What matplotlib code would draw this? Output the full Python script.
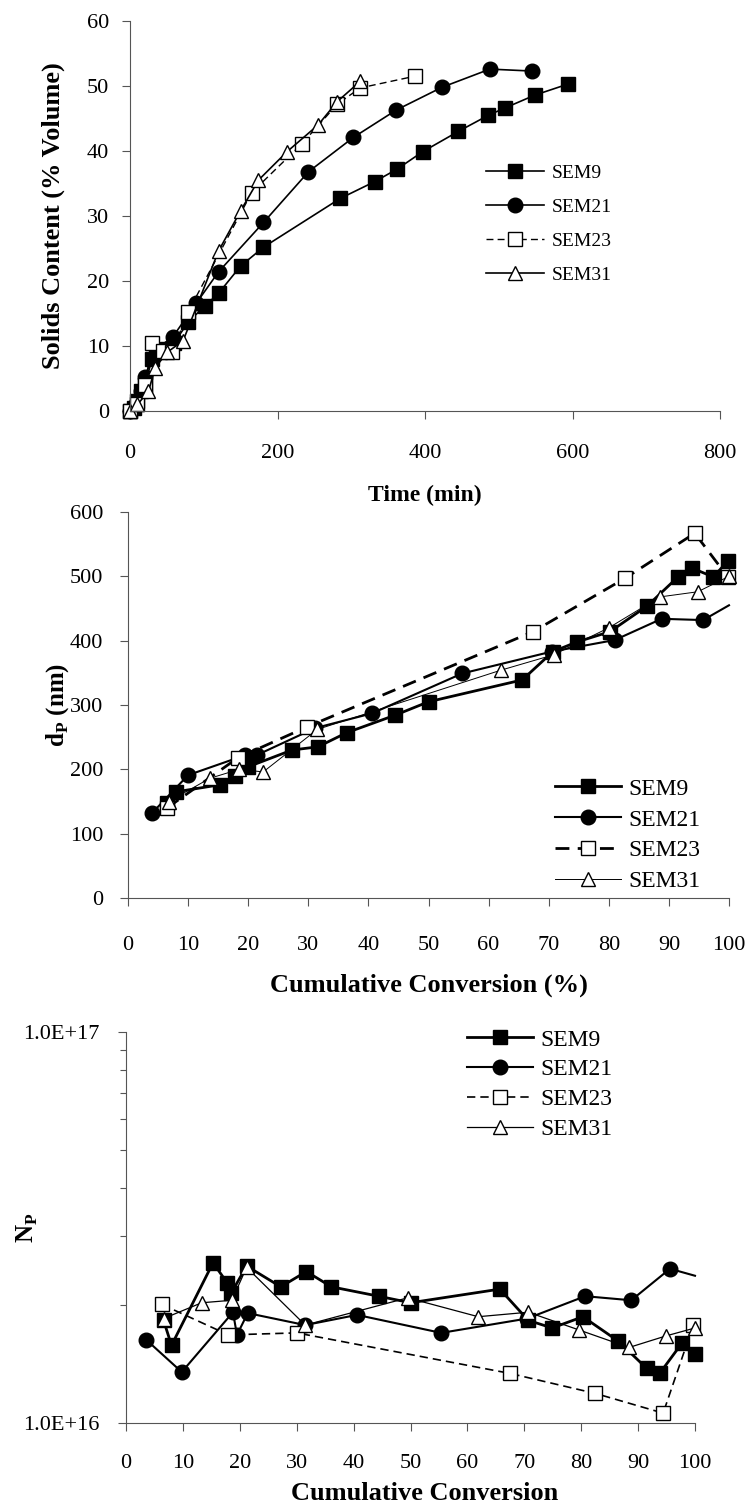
import matplotlib
matplotlib.use("Agg")
import matplotlib.pyplot as plt
from matplotlib.ticker import FixedLocator, LogLocator, NullFormatter, FixedFormatter

plt.rcParams['font.family'] = ['Liberation Serif', 'DejaVu Serif']
plt.rcParams['mathtext.fontset'] = 'custom'
plt.rcParams['mathtext.rm'] = 'Liberation Serif'
plt.rcParams['mathtext.bf'] = 'Liberation Serif:bold'

# ================= 資料 : Solids content vs time =================
sc_sem9_t = [0, 5, 10, 15, 20, 30, 40, 50, 60, 79, 102, 120, 150, 181, 285, 332, 362, 397, 445, 486, 508, 549, 594]
sc_sem9_v = [0, 0.5, 1.5, 3, 4, 8, 9, 9.5, 10.5, 13.7, 16.2, 18.1, 22.3, 25.2, 32.7, 35.3, 37.2, 39.9, 43, 45.5, 46.6, 48.6, 50.3]
sc_sem21_t = [0, 8, 15, 20, 35, 58, 90, 120, 181, 242, 303, 361, 423, 488, 545]
sc_sem21_v = [0, 1, 3, 5.2, 9.5, 11.4, 16.6, 21.4, 29, 36.8, 42.1, 46.3, 49.8, 52.6, 52.3]
sc_sem23_t = [0, 10, 20, 30, 45, 57, 79, 165, 233, 281, 312, 386]
sc_sem23_v = [0, 1, 4, 10.4, 9.3, 9.1, 15.3, 33.6, 41.1, 47.2, 49.7, 51.5]
sc_sem31_t = [0, 10, 25, 34, 50, 72, 120, 150, 174, 213, 255, 281, 312]
sc_sem31_v = [0, 1, 3, 6.6, 9, 10.8, 24.6, 30.8, 35.5, 39.9, 44, 47.6, 50.7]

# ================= 資料 : particle diameter vs conversion =================
dp_sem9_c = [6.5, 8, 15.3, 17.8, 20, 27.3, 31.6, 36.4, 44.4, 50, 65.6, 70.7, 74.7, 80.2, 86.4, 91.5, 93.8, 97.4, 99.8]
dp_sem9_d = [148, 165, 176, 190, 204, 230, 235, 257, 284, 305, 339, 383, 398, 414, 454, 499, 513, 499, 524]
dp_sem21_c = [4, 10, 19.5, 21.4, 31.1, 40.6, 55.6, 70.5, 81, 88.8, 95.7, 100]
dp_sem21_d = [132, 191, 222, 222, 264, 287, 349, 383, 401, 434, 432, 455]
dp_sem23_c = [6.5, 18.3, 29.8, 67.4, 82.7, 94.3, 99.8]
dp_sem23_d = [140, 218, 266, 414, 497, 567, 499]
dp_sem31_c = [6.8, 13.6, 18.5, 22.5, 31.5, 62, 70.8, 80, 88.5, 94.8, 100]
dp_sem31_d = [150, 186, 200, 196, 262, 354, 378, 420, 468, 476, 500]

# ================= 資料 : particle number vs conversion =================
np_sem9_c = [6.6, 8.0, 15.3, 17.8, 18.5, 21.2, 27.2, 31.7, 36.1, 44.4, 50, 65.7, 70.7, 74.9, 80.3, 86.5, 91.5, 93.8, 97.7, 100]
np_sem9_n = [1.83e16, 1.58e16, 2.57e16, 2.28e16, 2.15e16, 2.52e16, 2.23e16, 2.44e16, 2.23e16, 2.11e16, 2.03e16,
             2.2e16, 1.83e16, 1.75e16, 1.87e16, 1.62e16, 1.38e16, 1.34e16, 1.6e16, 1.5e16]
np_sem21_c = [3.6, 9.8, 18.8, 19.5, 21.4, 31.5, 40.6, 55.4, 70.5, 80.7, 88.8, 95.6, 100]
np_sem21_n = [1.63e16, 1.35e16, 1.92e16, 1.68e16, 1.91e16, 1.78e16, 1.89e16, 1.7e16, 1.85e16, 2.11e16, 2.06e16,
              2.48e16, 2.38e16]
np_sem23_c = [6.3, 18.0, 30, 67.4, 82.5, 94.4, 99.7]
np_sem23_n = [2.01e16, 1.68e16, 1.7e16, 1.34e16, 1.19e16, 1.06e16, 1.78e16]
np_sem31_c = [6.6, 13.3, 18.6, 21.2, 31.5, 49.5, 61.9, 70.7, 79.6, 88.4, 94.9, 100]
np_sem31_n = [1.85e16, 2.03e16, 2.06e16, 2.5e16, 1.78e16, 2.09e16, 1.87e16, 1.92e16, 1.73e16, 1.56e16, 1.67e16, 1.75e16]

labels = ['SEM9', 'SEM21', 'SEM23', 'SEM31']

W, H = 752, 1512
fig = plt.figure(figsize=(W / 100, H / 100), dpi=100)


def box(l, r, t, b):
    return [l / W, 1 - b / H, (r - l) / W, (b - t) / H]


def style_axes(ax, fs, xpad, ypad):
    for s in ['top', 'right']:
        ax.spines[s].set_visible(False)
    for s in ['left', 'bottom']:
        ax.spines[s].set_color('#555555')
        ax.spines[s].set_linewidth(0.8)
    ax.tick_params(axis='both', which='major', direction='out', length=6, width=0.8,
                   color='#555555', labelsize=fs)
    ax.tick_params(axis='x', pad=xpad)
    ax.tick_params(axis='y', pad=ypad)
    ax.tick_params(axis='y', which='minor', direction='out', length=4, width=0.8, color='#555555')


def draw(ax, data, widths, ms):
    styles = [
        dict(marker='s', mfc='black', mec='black', ls='-', color='black'),
        dict(marker='o', mfc='black', mec='black', ls='-', color='black'),
        dict(marker='s', mfc='white', mec='black', ls=(0, (5, 3)), color='black'),
        dict(marker='^', mfc='white', mec='black', ls='-', color='black'),
    ]
    for (x, y, mk), st, lw, lab in zip(data, styles, widths, labels):
        ax.plot(x, y, label=lab, lw=lw, ms=ms, mew=1.0, clip_on=False, markevery=mk, **st)


# ---------- 上圖 ----------
ax1 = fig.add_axes(box(130, 720, 21, 411))
draw(ax1, [(sc_sem9_t, sc_sem9_v, None), (sc_sem21_t, sc_sem21_v, None),
           (sc_sem23_t, sc_sem23_v, None), (sc_sem31_t, sc_sem31_v, None)],
     [1.2, 1.2, 1.0, 1.2], 10.5)
ax1.set_xlim(0, 800)
ax1.set_ylim(0, 60)
ax1.set_xticks([0, 200, 400, 600, 800])
ax1.set_yticks(range(0, 61, 10))
style_axes(ax1, 16, 18, 9)
ax1.set_xlabel('Time (min)', fontsize=17, fontweight='bold')
ax1.set_ylabel('Solids Content (% Volume)', fontsize=19, fontweight='bold')
ax1.xaxis.set_label_coords(0.5, -0.19)
ax1.yaxis.set_label_coords(-0.11, 0.5)
ax1.legend(loc='upper left', bbox_to_anchor=((486 - 130) / 590, (411 - 164) / 390), frameon=False,
           borderaxespad=0, borderpad=0, fontsize=14, handlelength=3.0, handletextpad=0.4,
           labelspacing=0.85)

# ---------- 中圖 ----------
ax2 = fig.add_axes(box(128, 729, 512, 898))
mk_last = list(range(len(dp_sem21_c) - 1))
draw(ax2, [(dp_sem9_c, dp_sem9_d, None), (dp_sem21_c, dp_sem21_d, mk_last),
           (dp_sem23_c, dp_sem23_d, None), (dp_sem31_c, dp_sem31_d, None)],
     [2.0, 1.5, 2.0, 0.7], 10.5)
ax2.set_xlim(0, 100)
ax2.set_ylim(0, 600)
ax2.set_xticks(range(0, 101, 10))
ax2.set_yticks(range(0, 601, 100))
style_axes(ax2, 16, 21, 12)
ax2.set_xlabel('Cumulative Conversion (%)', fontsize=19, fontweight='bold')
ax2.set_ylabel(r'd$_\mathregular{P}$ (nm)', fontsize=18, fontweight='bold')
ax2.xaxis.set_label_coords(0.5, -0.195)
ax2.yaxis.set_label_coords(-0.095, 0.5)
ax2.legend(loc='upper left', bbox_to_anchor=((555 - 128) / 601, (898 - 778) / 386), frameon=False,
           borderaxespad=0, borderpad=0, fontsize=17, handlelength=2.8, handletextpad=0.3,
           labelspacing=0.4)

# ---------- 下圖 ----------
ax3 = fig.add_axes(box(126, 695, 1032, 1423))
mk_last3 = list(range(len(np_sem21_c) - 1))
draw(ax3, [(np_sem9_c, np_sem9_n, None), (np_sem21_c, np_sem21_n, mk_last3),
           (np_sem23_c, np_sem23_n, None), (np_sem31_c, np_sem31_n, None)],
     [2.0, 1.5, 1.2, 0.9], 10.5)
ax3.set_yscale('log')
ax3.set_xlim(0, 100)
ax3.set_ylim(1e16, 1e17)
ax3.set_xticks(range(0, 101, 10))
ax3.yaxis.set_major_locator(FixedLocator([1e16, 1e17]))
ax3.yaxis.set_major_formatter(FixedFormatter(['1.0E+16', '1.0E+17']))
ax3.yaxis.set_minor_locator(LogLocator(base=10, subs=range(2, 10)))
ax3.yaxis.set_minor_formatter(NullFormatter())
style_axes(ax3, 16, 16, 13)
ax3.set_xlabel('Cumulative Conversion', fontsize=19, fontweight='bold')
ax3.set_ylabel(r'N$_\mathregular{P}$', fontsize=18, fontweight='bold')
ax3.xaxis.set_label_coords(0.524, -0.15)
ax3.yaxis.set_label_coords(-0.151, 0.5)
ax3.legend(loc='upper left', bbox_to_anchor=((467 - 126) / 569, (1423 - 1029) / 391), frameon=False,
           borderaxespad=0, borderpad=0, fontsize=17, handlelength=2.8, handletextpad=0.3,
           labelspacing=0.35)

fig.savefig('out.png', dpi=100)
